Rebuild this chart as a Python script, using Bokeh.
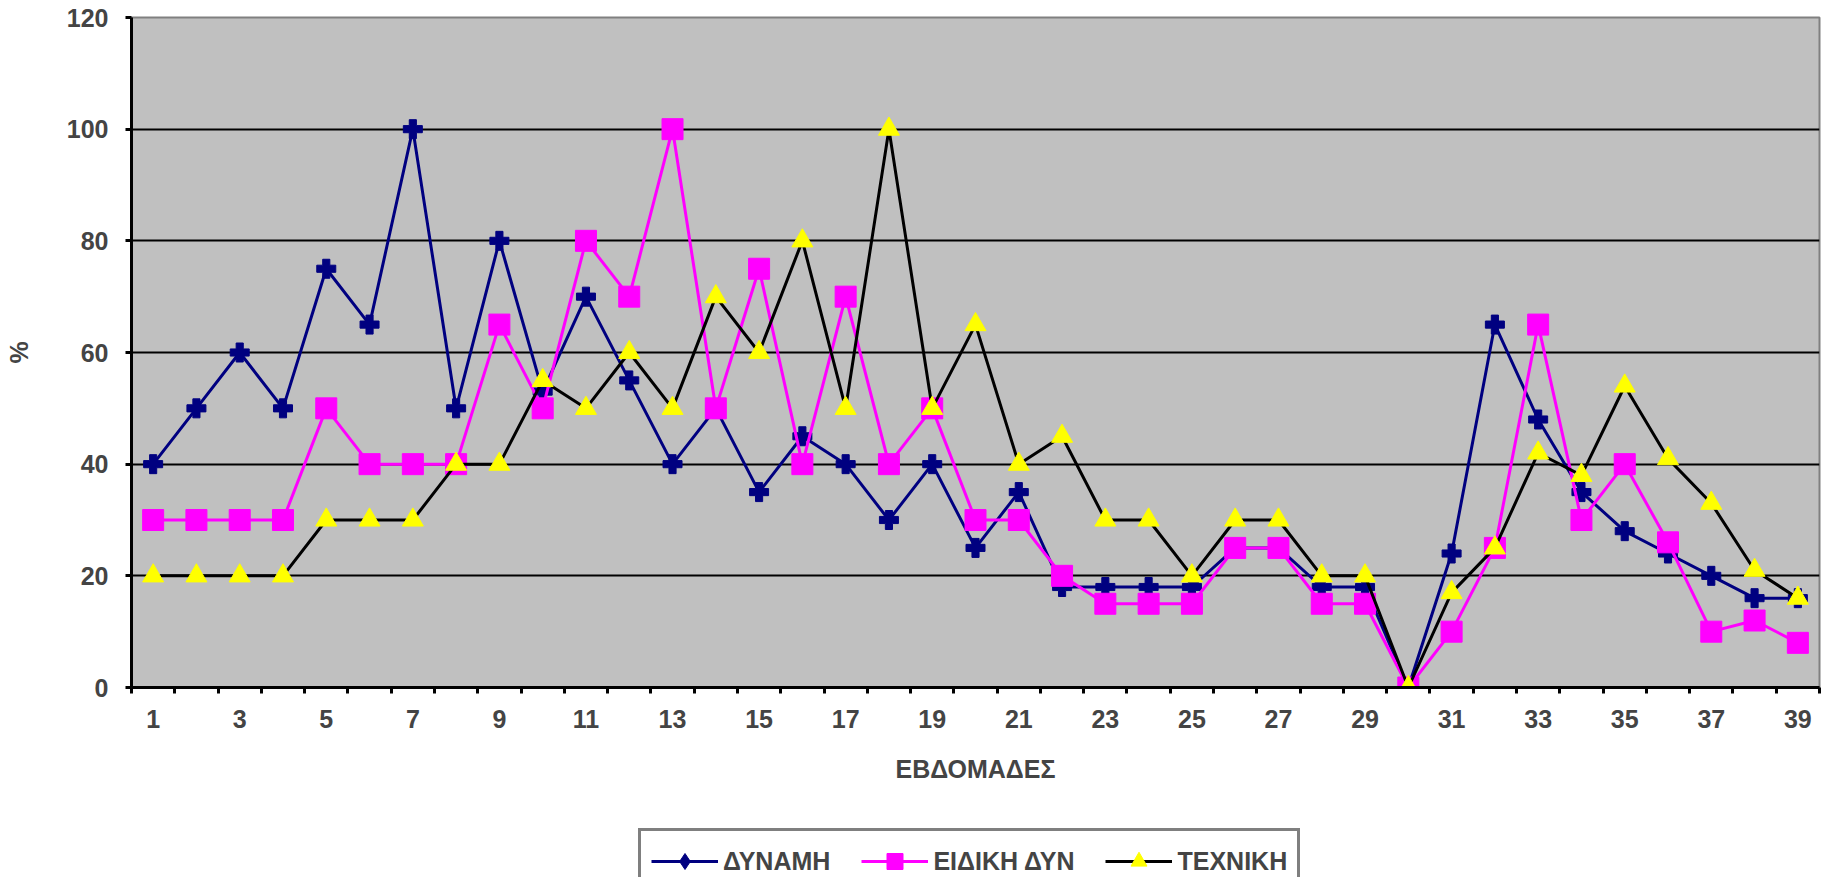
from bokeh.plotting import figure
from bokeh.layouts import column
from bokeh.models import Range1d, FixedTicker, Legend, LegendItem
from bokeh.embed import file_html
from bokeh.resources import INLINE

weeks = list(range(1, 40))
dynami = [40, 50, 60, 50, 75, 65, 100, 50, 80, 53,
          70, 55, 40, 50, 35, 45, 40, 30, 40, 25,
          35, 18, 18, 18, 18, 25, 25, 18, 18, 0,
          24, 65, 48, 35, 28, 24, 20, 16, 16]
eidiki = [30, 30, 30, 30, 50, 40, 40, 40, 65, 50,
          80, 70, 100, 50, 75, 40, 70, 40, 50, 30,
          30, 20, 15, 15, 15, 25, 25, 15, 15, 0,
          10, 25, 65, 30, 40, 26, 10, 12, 8]
techniki = [20, 20, 20, 20, 30, 30, 30, 40, 40, 55,
            50, 60, 50, 70, 60, 80, 50, 100, 50, 65,
            40, 45, 30, 30, 20, 30, 30, 20, 20, 0,
            17, 25, 42, 38, 54, 41, 33, 21, 16]
series_names = ["ΔΥΝΑΜΗ", "ΕΙΔΙΚΗ ΔΥΝ", "ΤΕΧΝΙΚΗ"]
x_label_ticks = list(range(1, 40, 2))
x_boundaries = [w - 0.5 for w in range(1, 41)]
y_ticks = [0, 20, 40, 60, 80, 100, 120]
grid_ticks = [20, 40, 60, 80, 100]

FONT = "Liberation Sans"
FS = "25px"
NAVY = "#000080"
PINK = "#FF00FF"
YELLOW = "#FFFF00"

p = figure(width=1829, height=800, output_backend="svg", toolbar_location=None,
           x_range=Range1d(0.5, 39.5), y_range=Range1d(0, 120),
           min_border_left=131, min_border_right=10, min_border_top=17,
           min_border_bottom=113)
p.background_fill_color = "#C0C0C0"
p.border_fill_color = "white"
p.outline_line_color = "#808080"
p.outline_line_width = 2

p.xgrid.visible = False
p.ygrid.ticker = FixedTicker(ticks=grid_ticks)
p.ygrid.grid_line_color = "black"
p.ygrid.grid_line_width = 2

ya = p.yaxis[0]
ya.ticker = FixedTicker(ticks=y_ticks)
ya.axis_line_width = 3
ya.axis_line_color = "black"
ya.major_tick_line_width = 3
ya.major_tick_out = 6
ya.major_tick_in = 0
ya.minor_tick_line_color = None
ya.major_label_text_font = FONT
ya.major_label_text_font_style = "bold"
ya.major_label_text_font_size = FS
ya.major_label_standoff = 17
ya.axis_label = "%"
ya.axis_label_text_font = FONT
ya.axis_label_text_font_style = "bold"
ya.axis_label_text_font_size = FS
ya.axis_label_standoff = 31

xa = p.xaxis[0]
xa.ticker = FixedTicker(ticks=x_label_ticks, minor_ticks=x_boundaries)
xa.axis_line_width = 3
xa.axis_line_color = "black"
xa.major_tick_out = 0
xa.major_tick_in = 0
xa.major_tick_line_color = None
xa.minor_tick_out = 6
xa.minor_tick_in = 0
xa.minor_tick_line_width = 3
xa.minor_tick_line_color = "black"
xa.major_label_text_font = FONT
xa.major_label_text_font_style = "bold"
xa.major_label_text_font_size = FS
xa.major_label_standoff = 16
xa.axis_label = "ΕΒΔΟΜΑΔΕΣ"
xa.axis_label_text_font = FONT
xa.axis_label_text_font_style = "bold"
xa.axis_label_text_font_size = FS
xa.axis_label_standoff = 24

# series 1
p.line(weeks, dynami, line_color=NAVY, line_width=3)
p.scatter(weeks, dynami, marker="plus", size=19, fill_color=NAVY, line_color=NAVY)
# series 2
p.line(weeks, eidiki, line_color=PINK, line_width=3)
p.scatter(weeks, eidiki, marker="square", size=21, fill_color=PINK, line_color=PINK)
# series 3
p.line(weeks, techniki, line_color="black", line_width=3)
p.scatter(weeks, techniki, marker="triangle", size=21, fill_color=YELLOW, line_color=YELLOW)

# legend strip (its bottom is cut off by the window, as in the reference)
q = figure(width=1829, height=77, output_backend="svg", toolbar_location=None,
           x_range=Range1d(0, 1), y_range=Range1d(0, 1),
           x_axis_type=None, y_axis_type=None,
           min_border_left=0, min_border_right=0, min_border_top=0, min_border_bottom=0)
q.outline_line_color = None
q.background_fill_color = "white"
q.border_fill_color = "white"
q.xgrid.visible = False
q.ygrid.visible = False

nan = float("nan")
rl1 = q.line([nan, nan], [nan, nan], line_color=NAVY, line_width=3)
rl2 = q.line([nan, nan], [nan, nan], line_color=PINK, line_width=3)
rl3 = q.line([nan, nan], [nan, nan], line_color="black", line_width=3)
g1 = q.scatter([nan], [nan], marker="diamond", fill_color=NAVY, line_color=NAVY)
g2 = q.scatter([nan], [nan], marker="square", fill_color=PINK, line_color=PINK)
g3 = q.scatter([nan], [nan], marker="triangle", fill_color=YELLOW, line_color=YELLOW)

legend = Legend(items=[LegendItem(label=series_names[0], renderers=[rl1, g1]),
                       LegendItem(label=series_names[1], renderers=[rl2, g2]),
                       LegendItem(label=series_names[2], renderers=[rl3, g3])],
                orientation="horizontal", location=(507, -17),
                glyph_width=67, glyph_height=40, label_standoff=5, spacing=31,
                padding=10, margin=0,
                border_line_color="black", border_line_width=3,
                background_fill_color="white", background_fill_alpha=1.0,
                label_text_font=FONT, label_text_font_style="bold",
                label_text_font_size=FS)
q.add_layout(legend, "center")

layout = column(p, q, spacing=0)
open("out.html", "w").write(file_html(layout, INLINE))
